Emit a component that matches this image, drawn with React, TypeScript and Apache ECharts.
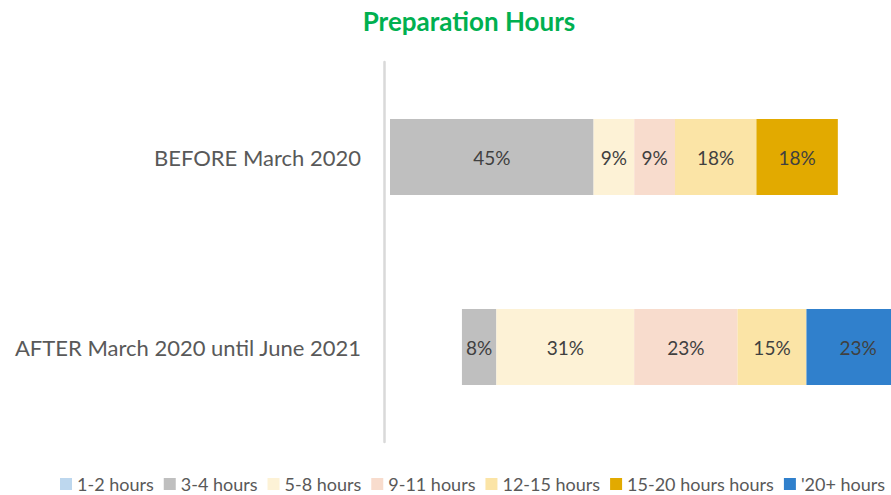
import React, { useEffect, useRef } from "react";
import * as echarts from "echarts";

const categories = ["BEFORE March 2020", "AFTER March 2020 until June 2021"];
const seriesNames = ["1-2 hours", "3-4 hours", "5-8 hours", "9-11 hours", "12-15 hours", "15-20 hours hours", "'20+ hours"];
const seriesColors = ["#BDD7EE", "#BFBFBF", "#FDF2D6", "#F8DCCD", "#FBE4A6", "#E2AA00", "#3080CC"];
// leading blank space before each bar (in % units)
const offsets = [1.34, 17.4];
const hours12 = [0, 0];
const hours34 = [45.45, 7.69];
const hours58 = [9.09, 30.77];
const hours911 = [9.09, 23.08];
const hours1215 = [18.18, 15.38];
const hours1520 = [18.18, 0];
const hours20p = [0, 23.08];
const seriesValues = [hours12, hours34, hours58, hours911, hours1215, hours1520, hours20p];

export default function App() {
  const ref = useRef<HTMLDivElement>(null);
  useEffect(() => {
    if (!ref.current) return;
    const chart = echarts.init(ref.current, null, { renderer: "svg" });
    const font = "Lato, 'Open Sans', sans-serif";
    const series: any[] = [
      {
        name: "offset",
        type: "bar",
        stack: "total",
        data: offsets,
        itemStyle: { color: "transparent" },
        label: { show: false },
        silent: true,
        barWidth: 76,
        clip: false,
      },
    ];
    seriesNames.forEach((n, i) => {
      series.push({
        name: n,
        type: "bar",
        stack: "total",
        data: seriesValues[i],
        barWidth: 76,
        clip: false,
        itemStyle: { color: seriesColors[i] },
        label: {
          show: true,
          position: "inside",
          color: "#404040",
          fontSize: 19,
          fontFamily: font,
          formatter: (p: any) => (p.value >= 0.5 ? Math.round(p.value) + "%" : ""),
        },
      });
    });
    chart.setOption({
      animation: false,
      title: {
        text: "Preparation Hours",
        left: 464,
        top: 3,
        textAlign: "center",
        textStyle: { color: "#00B050", fontSize: 26, fontWeight: "bold", fontFamily: font },
      },
      legend: {
        data: seriesNames,
        bottom: -3,
        left: 55,
        width: 880,
        icon: "rect",
        itemWidth: 12,
        itemHeight: 12,
        itemGap: 10,
        textStyle: { color: "#595959", fontSize: 18, fontFamily: font },
      },
      grid: { left: 384, right: 0, top: 62, bottom: 53, containLabel: false },
      xAxis: {
        type: "value",
        min: 0,
        max: 113.2,
        show: false,
      },
      yAxis: {
        type: "category",
        data: categories,
        inverse: true,
        axisLine: { show: true, lineStyle: { color: "#D9D9D9", width: 2.5 } },
        axisTick: { show: false },
        axisLabel: { color: "#595959", fontSize: 22, fontFamily: font, margin: 23 },
        splitLine: { show: false },
      },
      series,
    });
    return () => chart.dispose();
  }, []);
  return <div ref={ref} style={{ width: 891, height: 495, position: "absolute", left: 0, top: 0 }} />;
}
